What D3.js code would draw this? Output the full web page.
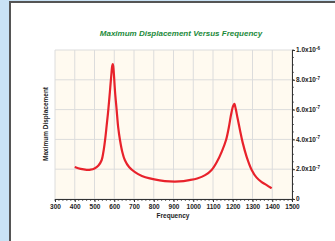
<!DOCTYPE html>
<html>
<head>
<meta charset="utf-8">
<script src="https://cdn.jsdelivr.net/npm/d3@7"></script>
<style>
  body { margin: 0; background: #c9e2f5; }
  svg { display: block; }
  text { font-family: "Liberation Sans", Arial, sans-serif; }
</style>
</head>
<body>
<svg id="chart" width="335" height="241"></svg>
<script>
// frequency (x) and max displacement in units of 1e-7 (y)
var freq = [400, 430, 460, 480, 500, 520, 536, 545, 553, 561, 570, 578, 585, 590, 593, 597, 604, 612, 620, 629, 640, 654, 675, 705, 740, 780, 830, 880, 930, 980, 1020, 1060, 1093, 1120, 1145, 1166, 1180, 1192, 1202, 1208, 1215, 1224, 1237, 1250, 1270, 1296, 1320, 1345, 1370, 1397];
var disp = [2.15, 2.02, 1.96, 1.97, 2.05, 2.25, 2.6, 3.15, 3.9, 4.85, 6.0, 7.2, 8.3, 8.95, 9.05, 8.6, 7.2, 6.0, 4.8, 3.96, 3.2, 2.6, 2.15, 1.8, 1.55, 1.38, 1.25, 1.18, 1.18, 1.27, 1.38, 1.6, 1.95, 2.5, 3.2, 3.96, 4.8, 5.7, 6.25, 6.38, 6.05, 5.45, 4.6, 3.8, 2.85, 1.95, 1.45, 1.15, 0.95, 0.72];

var xTicks = [300, 400, 500, 600, 700, 800, 900, 1000, 1100, 1200, 1300, 1400, 1500];
var yTicks = [0, 2, 4, 6, 8, 10];
var yLabels = [["0", ""], ["2.0x10", "-7"], ["4.0x10", "-7"], ["6.0x10", "-7"], ["8.0x10", "-7"], ["1.0x10", "-6"]];

var svg = d3.select("#chart");

// white panel with dark border on left/top
svg.append("rect").attr("x", 10).attr("y", 2).attr("width", 330).attr("height", 245)
  .attr("fill", "#fff").attr("stroke", "#555").attr("stroke-width", 2);

var x = d3.scaleLinear().domain([300, 1500]).range([55, 292]);
var y = d3.scaleLinear().domain([0, 10]).range([199, 50]);

// plot background
svg.append("rect").attr("x", 55).attr("y", 50).attr("width", 237).attr("height", 149)
  .attr("fill", "#fffaf0");

// grid
svg.selectAll(".vgrid").data(xTicks).enter().append("line")
  .attr("x1", d => x(d)).attr("x2", d => x(d)).attr("y1", 50).attr("y2", 199)
  .attr("stroke", "#dcdcdc").attr("stroke-width", 1);
svg.selectAll(".hgrid").data(yTicks).enter().append("line")
  .attr("x1", 55).attr("x2", 292).attr("y1", d => y(d)).attr("y2", d => y(d))
  .attr("stroke", "#dcdcdc").attr("stroke-width", 1);

// curve
var line = d3.line().x((d, i) => x(freq[i])).y(d => y(d)).curve(d3.curveCatmullRom.alpha(0.5));
svg.append("path").datum(disp).attr("d", line)
  .attr("fill", "none").attr("stroke", "#e8222b").attr("stroke-width", 2.2)
  .attr("stroke-linejoin", "round");

// bottom axis
var xAxis = d3.axisBottom(x).tickValues(xTicks).tickSize(3).tickFormat(d3.format("d"));
var gx = svg.append("g").attr("transform", "translate(0,199)").call(xAxis);
gx.select(".domain").attr("stroke", "#333");
gx.selectAll("line").attr("stroke", "#333");
gx.selectAll("text").attr("font-size", 6.5).attr("font-weight", "bold").attr("fill", "#222").attr("dy", "0.55em");
var minorX = d3.range(300, 1501, 20);
svg.selectAll(".mx").data(minorX).enter().append("line")
  .attr("x1", d => x(d)).attr("x2", d => x(d)).attr("y1", 199).attr("y2", 201)
  .attr("stroke", "#333").attr("stroke-width", 0.7);

// right axis
var yAxis = d3.axisRight(y).tickValues(yTicks).tickSize(3).tickFormat("");
var gy = svg.append("g").attr("transform", "translate(292,0)").call(yAxis);
gy.select(".domain").attr("stroke", "#333");
gy.selectAll("line").attr("stroke", "#333");
svg.selectAll(".my").data(d3.range(0, 10.01, 0.5)).enter().append("line")
  .attr("x1", 292).attr("x2", 294).attr("y1", d => y(d)).attr("y2", d => y(d))
  .attr("stroke", "#333").attr("stroke-width", 0.7);
var yl = svg.selectAll(".yl").data(yTicks).enter().append("text")
  .attr("x", 296).attr("y", d => y(d) + 2.2)
  .attr("font-size", 6.5).attr("font-weight", "bold").attr("fill", "#222");
yl.append("tspan").text((d, i) => yLabels[i][0]);
yl.append("tspan").attr("font-size", 4.5).attr("dy", -2.5).text((d, i) => yLabels[i][1]);

// titles
svg.append("text").attr("x", 181).attr("y", 36).attr("text-anchor", "middle")
  .attr("font-size", 8).attr("font-weight", "bold").attr("font-style", "italic")
  .attr("fill", "#1b8a3a").text("Maximum Displacement Versus Frequency");
svg.append("text").attr("x", 173).attr("y", 218).attr("text-anchor", "middle")
  .attr("font-size", 6.5).attr("font-weight", "bold").attr("fill", "#222").text("Frequency");
svg.append("text").attr("transform", "translate(48,124) rotate(-90)").attr("text-anchor", "middle")
  .attr("font-size", 6.5).attr("font-weight", "bold").attr("fill", "#222").text("Maximum Displacement");
</script>
</body>
</html>
